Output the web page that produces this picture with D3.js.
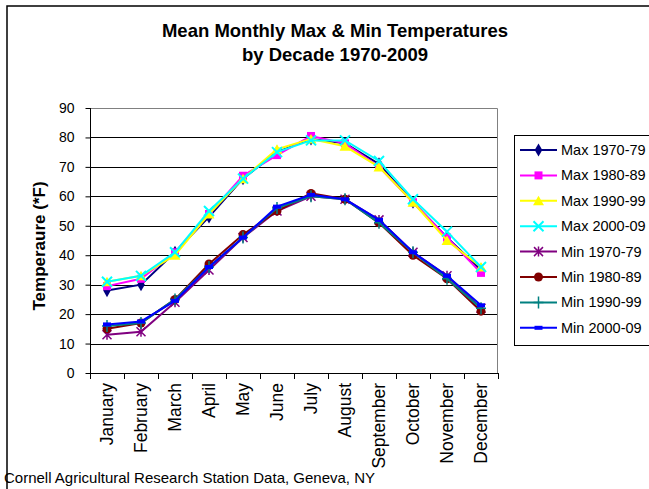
<!DOCTYPE html>
<html>
<head>
<meta charset="utf-8">
<script src="https://cdn.jsdelivr.net/npm/d3@7"></script>
<style>
  body { margin: 0; background: #fff; }
  text { font-family: Arial, "Liberation Sans", sans-serif; }
</style>
</head>
<body>
<div class="display"></div>
<script>
const months = ['January', 'February', 'March', 'April', 'May', 'June', 'July',
  'August', 'September', 'October', 'November', 'December'];
const yTicks = [0, 10, 20, 30, 40, 50, 60, 70, 80, 90];

const seriesNames = ['Max 1970-79', 'Max 1980-89', 'Max 1990-99', 'Max 2000-09',
  'Min 1970-79', 'Min 1980-89', 'Min 1990-99', 'Min 2000-09'];

const max1970 = [28, 30, 41, 53, 66, 75, 79.5, 78, 71, 58, 46, 35];
const max1980 = [29.5, 32, 41, 54, 67, 74, 80.5, 78, 70, 58, 46, 34];
const max1990 = [31, 33, 40, 54, 66, 76, 79.5, 77, 70, 58, 45, 36];
const max2000 = [31, 33, 41, 55, 66, 75, 79, 79, 72, 59, 48, 36];
const min1970 = [13, 14, 24, 35, 46, 55, 60, 59, 52, 41, 33, 22];
const min1980 = [15, 17, 25, 37, 47, 55, 61, 59, 51, 40, 32, 21];
const min1990 = [16, 17, 25, 36, 46, 56, 60, 59, 51, 41, 32, 22];
const min2000 = [16.5, 17.5, 24.5, 36, 46, 56.5, 60.5, 59, 52, 41, 33, 23];

const seriesValues = [max1970, max1980, max1990, max2000, min1970, min1980, min1990, min2000];
const seriesColors = ['#000080', '#ff00ff', '#ffff00', '#00ffff', '#800080', '#800000', '#008080', '#0000ff'];
const seriesMarkers = ['diamond', 'square', 'triangle', 'x', 'star', 'circle', 'plus', 'dash'];

const config = {
  width: 649,
  height: 489,
  plot: { left: 90, right: 498, top: 108, bottom: 373 },
  legend: { x: 514, y: 135, width: 135, height: 210, rowStart: 150, rowStep: 25.4 }
};

const svg = d3.select('.display')
  .append('svg')
  .attr('width', config.width)
  .attr('height', config.height);

// outer chart frame (cropped at right and bottom)
svg.append('rect')
  .attr('x', 7)
  .attr('y', 6)
  .attr('width', 700)
  .attr('height', 600)
  .attr('fill', 'none')
  .attr('stroke', '#000')
  .attr('stroke-width', 1.5);

const x = d3.scaleBand()
  .domain(months)
  .range([config.plot.left, config.plot.right]);

const y = d3.scaleLinear()
  .domain([0, 90])
  .range([config.plot.bottom, config.plot.top]);

// gridlines
svg.append('g')
  .selectAll('line')
  .data(yTicks.filter(d => d > 0 && d < 90))
  .enter()
  .append('line')
  .attr('x1', config.plot.left)
  .attr('x2', config.plot.right)
  .attr('y1', d => Math.round(y(d)) + 0.5)
  .attr('y2', d => Math.round(y(d)) + 0.5)
  .attr('stroke', '#000')
  .attr('stroke-width', 1);

// top and right border of plot area
svg.append('path')
  .attr('d', `M${config.plot.left},${config.plot.top + 0.5}H${config.plot.right - 0.5}V${config.plot.bottom}`)
  .attr('fill', 'none')
  .attr('stroke', '#808080')
  .attr('stroke-width', 1);

// y axis
const yAxis = svg.append('g')
  .attr('transform', `translate(${config.plot.left + 0.5}, 0)`)
  .call(d3.axisLeft(y).tickValues(yTicks).tickSize(5).tickPadding(11));
yAxis.select('.domain').attr('stroke', '#000').attr('d', `M0,${config.plot.top}V${config.plot.bottom}`);
yAxis.selectAll('.tick line').attr('stroke', '#000');
yAxis.selectAll('.tick text')
  .attr('font-size', 14)
  .attr('font-family', 'Arial, "Liberation Sans", sans-serif')
  .attr('fill', '#000');

// x axis
const xAxis = svg.append('g')
  .attr('transform', `translate(0, ${config.plot.bottom + 0.5})`)
  .call(d3.axisBottom(x).tickSize(0).tickFormat(''));
xAxis.select('.domain').attr('stroke', '#000').attr('d', `M${config.plot.left},0H${config.plot.right}`);
xAxis.selectAll('.tick').remove();

// category boundary ticks
svg.append('g')
  .selectAll('line')
  .data(months.concat(['end']))
  .enter()
  .append('line')
  .attr('x1', (d, i) => Math.round(config.plot.left + i * x.step()) + 0.5)
  .attr('x2', (d, i) => Math.round(config.plot.left + i * x.step()) + 0.5)
  .attr('y1', config.plot.bottom)
  .attr('y2', config.plot.bottom + 6)
  .attr('stroke', '#000');

// x labels, rotated
svg.append('g')
  .selectAll('text')
  .data(months)
  .enter()
  .append('text')
  .attr('transform', d => `translate(${x(d) + x.bandwidth() / 2 + 6}, ${config.plot.bottom + 10}) rotate(-90)`)
  .attr('text-anchor', 'end')
  .attr('font-size', 17.5)
  .text(d => d);

// titles
svg.append('text')
  .attr('x', 335)
  .attr('y', 37)
  .attr('text-anchor', 'middle')
  .attr('font-size', 18.5)
  .attr('font-weight', 'bold')
  .text('Mean Monthly Max & Min Temperatures');
svg.append('text')
  .attr('x', 335)
  .attr('y', 61)
  .attr('text-anchor', 'middle')
  .attr('font-size', 18.5)
  .attr('font-weight', 'bold')
  .text('by Decade 1970-2009');

svg.append('text')
  .attr('transform', `translate(45, 246) rotate(-90)`)
  .attr('text-anchor', 'middle')
  .attr('font-size', 17)
  .attr('font-weight', 'bold')
  .text('Temperaure (*F)');

svg.append('text')
  .attr('x', 4)
  .attr('y', 483)
  .attr('font-size', 15)
  .text('Cornell Agricultural Research Station Data, Geneva, NY');

// marker drawing
function drawMarker(g, type, color) {
  switch (type) {
    case 'diamond':
      g.append('path').attr('d', d3.symbol(d3.symbolDiamond, 50)()).attr('fill', color);
      break;
    case 'square':
      g.append('rect').attr('x', -4).attr('y', -4).attr('width', 8).attr('height', 8).attr('fill', color);
      break;
    case 'triangle':
      g.append('path').attr('d', 'M0,-5L5.5,4.5L-5.5,4.5Z').attr('fill', color);
      break;
    case 'x':
      g.append('path').attr('d', 'M-5,-5L5,5M-5,5L5,-5').attr('stroke', color).attr('stroke-width', 2);
      break;
    case 'star':
      g.append('path').attr('d', 'M-4.5,-4.5L4.5,4.5M-4.5,4.5L4.5,-4.5M0,-5V5').attr('stroke', color).attr('stroke-width', 1.5);
      break;
    case 'circle':
      g.append('circle').attr('r', 4.5).attr('fill', color);
      break;
    case 'plus':
      g.append('path').attr('d', 'M-5,0H5M0,-6V6').attr('stroke', color).attr('stroke-width', 1.5);
      break;
    case 'dash':
      g.append('rect').attr('x', -4).attr('y', -2).attr('width', 8).attr('height', 4).attr('fill', color);
      break;
  }
}

const line = d3.line()
  .x((d, i) => x(months[i]) + x.bandwidth() / 2)
  .y(d => y(d));

const seriesGroup = svg.append('g');
seriesValues.forEach((values, s) => {
  const g = seriesGroup.append('g');
  g.append('path')
    .datum(values)
    .attr('fill', 'none')
    .attr('stroke', seriesColors[s])
    .attr('stroke-width', 2)
    .attr('d', line);
  values.forEach((v, i) => {
    const m = g.append('g')
      .attr('transform', `translate(${x(months[i]) + x.bandwidth() / 2}, ${y(v)})`);
    drawMarker(m, seriesMarkers[s], seriesColors[s]);
  });
});

// legend
const legend = svg.append('g');
legend.append('rect')
  .attr('x', config.legend.x + 0.5)
  .attr('y', config.legend.y + 0.5)
  .attr('width', config.legend.width)
  .attr('height', config.legend.height)
  .attr('fill', '#fff')
  .attr('stroke', '#000');

seriesNames.forEach((name, s) => {
  const ry = config.legend.rowStart + s * config.legend.rowStep;
  legend.append('line')
    .attr('x1', 520)
    .attr('x2', 557)
    .attr('y1', ry)
    .attr('y2', ry)
    .attr('stroke', seriesColors[s])
    .attr('stroke-width', 2);
  const m = legend.append('g').attr('transform', `translate(538.5, ${ry})`);
  drawMarker(m, seriesMarkers[s], seriesColors[s]);
  legend.append('text')
    .attr('x', 561)
    .attr('y', ry + 5)
    .attr('font-size', 14.5)
    .text(name);
});
</script>
</body>
</html>
